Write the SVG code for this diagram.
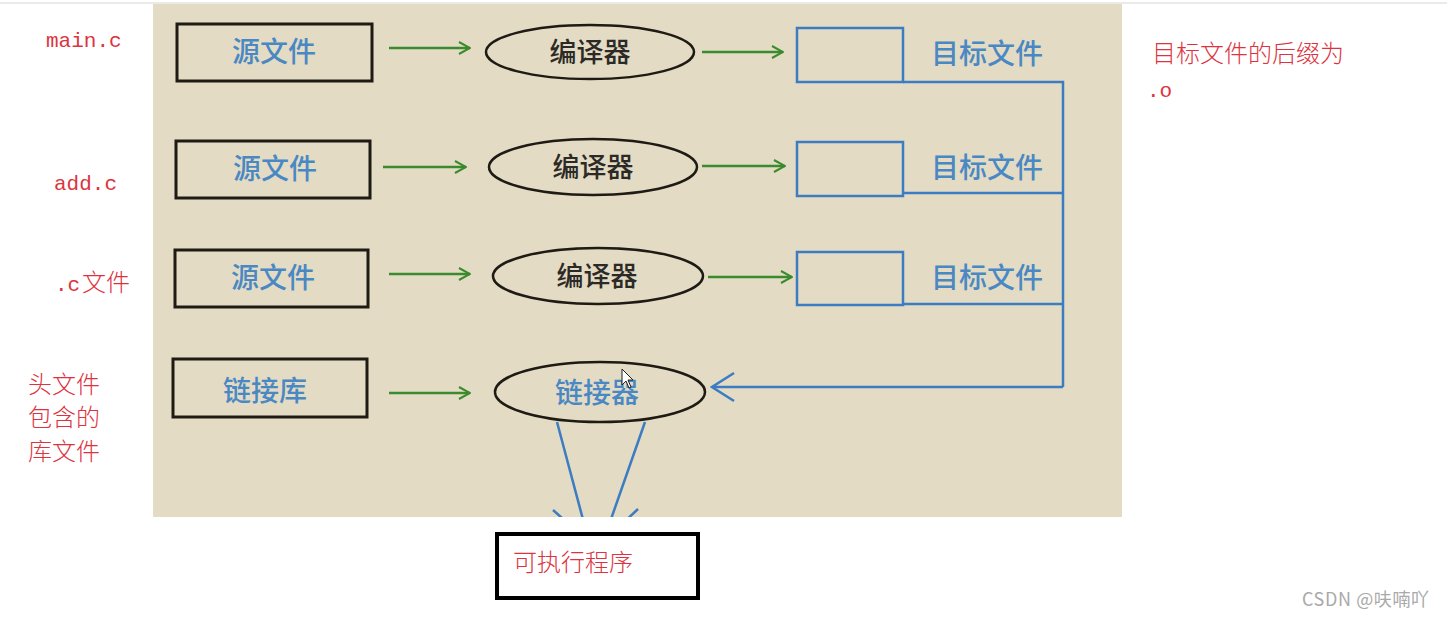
<svg xmlns="http://www.w3.org/2000/svg" width="1447" height="617" viewBox="0 0 1447 617">
  <style>
    .src { fill: none; stroke: #1e1a14; stroke-width: 3; }
    .tool { fill: none; stroke: #1e1a14; stroke-width: 2.5; }
    .obj { fill: none; stroke: #3c7cc2; stroke-width: 2.5; }
    .btxt { font-family: "Noto Sans CJK SC", "Noto Sans", sans-serif; font-size: 28px; fill: #4a88c4; font-weight: 500; }
    .ktxt { font-family: "Noto Sans CJK SC", "Noto Sans", sans-serif; font-size: 27px; fill: #2c2a26; font-weight: 500; }
    .note { font-family: "Noto Sans CJK SC", sans-serif; font-size: 24px; fill: #dd3340; font-weight: 300; }
    .code { font-family: "Liberation Mono", "Noto Sans CJK SC", monospace; font-size: 21px; fill: #dd3340; }
    .green { fill: none; stroke: #3a8a2e; stroke-width: 2.5; }
    .blue { fill: none; stroke: #3c7cc2; stroke-width: 2.5; }
  </style>
  <defs>
    <marker id="ga" viewBox="0 0 14 14" refX="13" refY="7" markerWidth="14" markerHeight="14" markerUnits="userSpaceOnUse" orient="auto">
      <path d="M2,1 L13,7 L2,13" fill="none" stroke="#3a8a2e" stroke-width="2"/>
    </marker>
    <marker id="ba" viewBox="0 0 26 32" refX="24" refY="16" markerWidth="26" markerHeight="32" markerUnits="userSpaceOnUse" orient="auto">
      <path d="M2,2 L24,16 L2,30" fill="none" stroke="#3c7cc2" stroke-width="2.5"/>
    </marker>
    <clipPath id="panel">
      <rect x="153" y="4" width="969" height="513"/>
    </clipPath>
  </defs>

  <rect x="0" y="0" width="1447" height="617" fill="#ffffff"/>
  <rect x="0" y="2" width="1447" height="2" fill="#eceae6"/>
  <rect x="153" y="4" width="969" height="513" fill="#e3dbc3"/>

  <!-- row 1 -->
  <g id="src1"><rect class="src" x="177" y="24" width="195" height="57"/><text class="btxt" x="274" y="62" text-anchor="middle">源文件</text></g>
  <g id="cc1"><ellipse class="tool" cx="590" cy="52" rx="104" ry="27"/><text class="ktxt" x="590" y="62" text-anchor="middle">编译器</text></g>
  <g id="obj1"><rect class="obj" x="797" y="28" width="106" height="54"/><text class="btxt" x="987" y="64" text-anchor="middle">目标文件</text></g>

  <!-- row 2 -->
  <g id="src2"><rect class="src" x="176" y="141" width="194" height="57"/><text class="btxt" x="275" y="179" text-anchor="middle">源文件</text></g>
  <g id="cc2"><ellipse class="tool" cx="593" cy="167" rx="104" ry="28"/><text class="ktxt" x="593" y="177" text-anchor="middle">编译器</text></g>
  <g id="obj2"><rect class="obj" x="797" y="142" width="106" height="54"/><text class="btxt" x="987" y="178" text-anchor="middle">目标文件</text></g>

  <!-- row 3 -->
  <g id="src3"><rect class="src" x="175" y="250" width="193" height="57"/><text class="btxt" x="273" y="288" text-anchor="middle">源文件</text></g>
  <g id="cc3"><ellipse class="tool" cx="598" cy="276" rx="105" ry="28"/><text class="ktxt" x="597" y="286" text-anchor="middle">编译器</text></g>
  <g id="obj3"><rect class="obj" x="797" y="252" width="106" height="53"/><text class="btxt" x="987" y="288" text-anchor="middle">目标文件</text></g>

  <!-- row 4 -->
  <g id="lib"><rect class="src" x="173" y="359" width="194" height="58"/><text class="btxt" x="265" y="401" text-anchor="middle">链接库</text></g>
  <g id="linker"><ellipse class="tool" cx="600" cy="392" rx="105" ry="30"/><text class="btxt" x="597" y="403" text-anchor="middle">链接器</text></g>

  <!-- output -->
  <g id="exe"><rect x="497" y="534" width="201" height="64" fill="none" stroke="#000000" stroke-width="4"/><text class="note" x="513" y="571" font-size="25">可执行程序</text></g>

  <!-- connectors -->
  <g id="connectors">
    <line class="green" x1="389" y1="48" x2="470" y2="48" marker-end="url(#ga)"/>
    <line class="green" x1="702" y1="52" x2="783" y2="52" marker-end="url(#ga)"/>
    <line class="green" x1="383" y1="167" x2="466" y2="167" marker-end="url(#ga)"/>
    <line class="green" x1="702" y1="166" x2="785" y2="166" marker-end="url(#ga)"/>
    <line class="green" x1="389" y1="274" x2="470" y2="274" marker-end="url(#ga)"/>
    <line class="green" x1="708" y1="277" x2="792" y2="277" marker-end="url(#ga)"/>
    <line class="green" x1="389" y1="393" x2="470" y2="393" marker-end="url(#ga)"/>
    <polyline class="blue" points="903,82 1063,82 1063,387"/>
    <line class="blue" x1="903" y1="193" x2="1063" y2="193"/>
    <line class="blue" x1="903" y1="304" x2="1063" y2="304"/>
    <line class="blue" x1="1063" y1="387" x2="712" y2="387" marker-end="url(#ba)"/>
    <!-- the two output arrows run past the panel's lower edge -->
    <g clip-path="url(#panel)">
      <line class="blue" x1="557" y1="422" x2="589" y2="542"/>
      <line class="blue" x1="645" y1="422" x2="603" y2="542"/>
      <polyline class="blue" points="553,510 589,542 604,519"/>
      <polyline class="blue" points="590,519 603,542 638,509"/>
    </g>
  </g>

  <!-- mouse pointer -->
  <path d="M622,369 L622,385 L626,381 L629,388 L631,387 L628,380 L633,380 Z" fill="#ffffff" stroke="#222222" stroke-width="1"/>

  <!-- side notes -->
  <text class="code" x="46" y="47">main.c</text>
  <text class="code" x="54" y="190">add.c</text>
  <text class="code" x="55" y="291">.c</text>
  <text class="note" x="82" y="291">文件</text>
  <text class="note" x="28" y="393">头文件</text>
  <text class="note" x="28" y="426">包含的</text>
  <text class="note" x="28" y="460">库文件</text>
  <text class="note" x="1152" y="62" font-size="25">目标文件的后缀为</text>
  <text class="code" x="1147" y="97">.o</text>

  <text x="1302" y="606" font-family="'Noto Sans CJK SC', sans-serif" font-size="18" letter-spacing="0.6" fill="#a9a9a9">CSDN @呋喃吖</text>
</svg>
